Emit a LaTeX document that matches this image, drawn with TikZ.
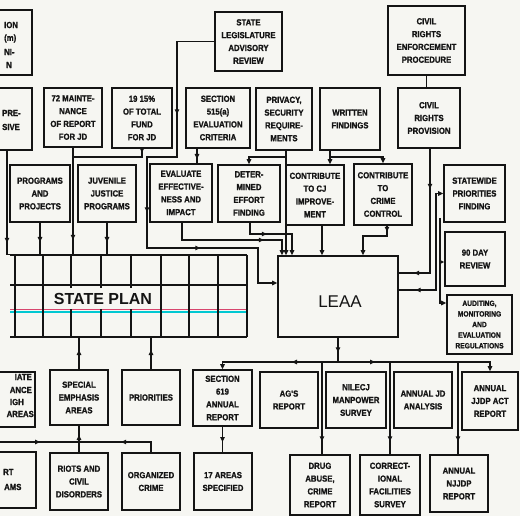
\documentclass[tikz,border=0pt]{standalone}
\usepackage{fontspec}
\setmainfont{Liberation Sans}
\newfontfamily\condf{Liberation Sans Bold}[FakeStretch=0.88,FakeBold=1.2]
\usetikzlibrary{arrows.meta,decorations.markings}
\definecolor{paper}{RGB}{246,246,242}
\definecolor{ink}{RGB}{20,20,20}
\definecolor{scancyan}{RGB}{0,200,210}
\definecolor{scanred}{RGB}{215,70,110}
\newcommand{\mybox}[5]{\node[box, minimum width=#3pt, minimum height=#4pt] (#1) at (#2) {#5};}
\begin{document}
\begin{tikzpicture}[x=1pt,y=-1pt,
  box/.style={draw=ink, line width=1.6pt, inner sep=1pt, align=center, text=ink, font=\condf\fontsize{8.8}{12.8}\selectfont},
  frag/.style={inner sep=0pt, text=ink, font=\condf\fontsize{8.8}{12.8}\selectfont},
  ln/.style={draw=ink, line width=1.3pt},
  gridln/.style={draw=ink, line width=1.4pt},
  >={Triangle[length=5pt,width=4.5pt]},
  ma/.style={postaction={decorate,decoration={markings,mark=at position #1 with {\arrow{Triangle[length=5pt,width=4.5pt]}}}}},
]
\useasboundingbox (0,0) rectangle (520,516);
\clip (0,0) rectangle (520,516);
\fill[paper] (0,0) rectangle (520,516);

% ---- boxes ----
\mybox{cutA}{7,42.5}{50}{65}{}
\mybox{cutB}{7,119}{50}{62}{}
\mybox{SLAR}{248.5,41.5}{67}{59}{STATE\\LEGISLATURE\\ADVISORY\\REVIEW}
\mybox{CREP}{426.5,40.5}{77}{69}{CIVIL\\RIGHTS\\ENFORCEMENT\\PROCEDURE}
\mybox{M72}{73,117.5}{58}{59}{72 MAINTE-\\NANCE\\OF REPORT\\FOR JD}
\mybox{F19}{142,118}{60}{60}{19 15\%\\OF TOTAL\\FUND\\FOR JD}
\mybox{S515}{218,118}{64}{60}{SECTION\\515(a)\\EVALUATION\\CRITERIA}
\mybox{PRIV}{284,119}{56}{62}{PRIVACY,\\SECURITY\\REQUIRE-\\MENTS}
\mybox{WRIT}{350,119}{60}{62}{WRITTEN\\FINDINGS}
\mybox{CRP}{429,118}{62}{60}{CIVIL\\RIGHTS\\PROVISION}
\mybox{PROG}{40,193.5}{60}{57}{PROGRAMS\\AND\\PROJECTS}
\mybox{JUV}{107,193.5}{58}{57}{JUVENILE\\JUSTICE\\PROGRAMS}
\mybox{EVAL}{181,193}{62}{58}{EVALUATE\\EFFECTIVE-\\NESS AND\\IMPACT}
\mybox{DET}{249,193.5}{62}{57}{DETER-\\MINED\\EFFORT\\FINDING}
\mybox{CJ}{315,195}{58}{60}{CONTRIBUTE\\TO CJ\\IMPROVE-\\MENT}
\mybox{CC}{383,194.5}{58}{61}{CONTRIBUTE\\TO\\CRIME\\CONTROL}
\mybox{SWP}{474.5,193.5}{61}{57}{STATEWIDE\\PRIORITIES\\FINDING}
\mybox{D90}{475,259}{60}{54}{90 DAY\\REVIEW}
\node[box, minimum width=65pt, minimum height=59pt, font=\condf\fontsize{7.6}{10.6}\selectfont] (AUD) at (479.5,324.5) {AUDITING,\\MONITORING\\AND\\EVALUATION\\REGULATIONS};
\mybox{LEAA}{338,296.5}{120}{81}{}
\mybox{cutC}{7.5,399.5}{55}{55}{}
\mybox{SEA}{79,397.5}{58}{55}{SPECIAL\\EMPHASIS\\AREAS}
\mybox{PRI}{151,397.5}{58}{55}{PRIORITIES}
\mybox{S619}{222.5,398}{59}{56}{SECTION\\619\\ANNUAL\\REPORT}
\mybox{AG}{289,400}{58}{56}{AG'S\\REPORT}
\mybox{NIL}{356,400}{60}{56}{NILECJ\\MANPOWER\\SURVEY}
\mybox{AJD}{423,400}{58}{56}{ANNUAL JD\\ANALYSIS}
\mybox{AJJ}{490,401}{56}{58}{ANNUAL\\JJDP ACT\\REPORT}
\mybox{cutD}{8,480}{56}{56}{}
\mybox{RIOT}{79,481.5}{58}{57}{RIOTS AND\\CIVIL\\DISORDERS}
\mybox{ORG}{151,481.5}{58}{57}{ORGANIZED\\CRIME}
\mybox{A17}{223,481.5}{58}{57}{17 AREAS\\SPECIFIED}
\mybox{DRUG}{320,485}{60}{60}{DRUG\\ABUSE,\\CRIME\\REPORT}
\mybox{CORR}{390,485}{60}{60}{CORRECT-\\IONAL\\FACILITIES\\SURVEY}
\mybox{NJJ}{459,483.5}{58}{57}{ANNUAL\\NJJDP\\REPORT}

% ---- cut-off text fragments ----
\node[frag,anchor=west] (fa1) at (4,25) {ION};
\node[frag,anchor=west] (fa2) at (4,38.5) {(m)};
\node[frag,anchor=west] (fa3) at (4,52) {NI-};
\node[frag,anchor=west] (fa4) at (6,65) {N};
\node[frag,anchor=west] (fb1) at (2,113) {PRE-};
\node[frag,anchor=west] (fb2) at (2,127) {SIVE};
\node[frag,anchor=east] (fc1) at (32,377) {IATE};
\node[frag,anchor=east] (fc2) at (32,390) {ANCE};
\node[frag,anchor=east] (fc3) at (24,402) {IGH};
\node[frag,anchor=east] (fc4) at (34,414) {AREAS};
\node[frag,anchor=west] (fd1) at (3,472) {RT};
\node[frag,anchor=west] (fd2) at (4,487) {AMS};

% ---- state plan grid ----
\node[inner sep=0pt, minimum width=237pt, minimum height=82pt] (plan) at (128.5,296) {};
\foreach \yy in {255,285,337} \draw[gridln] (10,\yy) -- (247,\yy);
\draw[line width=0.5pt, scanred] (10,309.6) -- (247,309.6);
\draw[line width=2pt, scancyan] (10,311.6) -- (247,311.6);
\foreach \xx in {15,43,71,101,131,161,189,218,247} \draw[gridln] (\xx,255) -- (\xx,337);
\node[font=\bfseries\fontsize{16}{16}\selectfont, text=ink, fill=paper, inner xsep=3pt, inner ysep=5pt] (plantxt) at (103,298.5) {STATE PLAN};
\node[font=\fontsize{17}{17}\selectfont, text=ink, inner sep=0pt] (leaatxt) at (340,302) {LEAA};

% ---- junction coordinates ----
\coordinate (jpriv) at (286,157);
\coordinate (jwrit) at (330,157);
\coordinate (jr) at (440,218);
\coordinate (jd) at (440,262);
\coordinate (bus) at (338,362);
\coordinate (b1) at (322,362);
\coordinate (b2) at (390,362);
\coordinate (b3) at (458,362);
\coordinate (j2) at (79,442);
\coordinate (jl) at (-5,442);

% ---- connectors ----
\draw[ln] (CREP.south) -- (CREP.south |- CRP.north);
\draw[ln,->,ma=110pt,ma=238pt,ma=327pt] (SLAR.west) -| (177,157) -| (147,248) -| (258,283) -- (LEAA.west |- 0,283);
\draw[ln,ma=92pt] (M72.south) -- (M72.south |- plan.north);
\draw[ln,ma=4pt] (F19.south) |- (M72.south |- 0,157);
\draw[ln,ma=0.6] (PROG.south) -- (PROG.south |- plan.north);
\draw[ln,ma=0.6] (JUV.south) -- (JUV.south |- plan.north);
\draw[ln,ma=92pt] (cutB.south) |- (plan.north west);
\draw[ln,ma=0.7] (197,0 |- S515.south) -- (197,0 |- EVAL.north);
\draw[ln,->,ma=99pt] (182,0 |- EVAL.south) |- (282,240) -- (282,0 |- LEAA.north);
\draw[ln,->,ma=28pt] (250,0 |- DET.south) |- (292,234) -- (292,0 |- LEAA.north);
\draw[ln,->] (286,0 |- PRIV.south) -- (286,0 |- LEAA.north);
\draw[ln,->] (jpriv) -| (DET.north);
\draw[ln,->] (330,0 |- WRIT.south) -- (330,0 |- CJ.north);
\draw[ln,->] (jwrit) -| (CC.north);
\draw[ln,->] (322,0 |- CJ.south) -- (322,0 |- LEAA.north);
\draw[ln,->,ma=6pt] (387,0 |- CC.south) |- (363,236) -- (363,0 |- LEAA.north);
\draw[ln,ma=40pt,ma=140pt] (430,0 |- CRP.south) |- (LEAA.east |- 0,273);
\draw[ln,<-,ma=124pt] (SWP.west) -| (436,290) -- (LEAA.east |- 0,290);
\draw[ln,->] (jr) |- (AUD.west |- 0,303);
\draw[ln,->] (jd) -- (D90.west |- jd);
\draw[ln,ma=0.6] (LEAA.south) -- (bus);
\draw[ln,->,ma=46pt] (bus) -| (S619.north);
\draw[ln,->,ma=37pt] (bus) -| (AJJ.north);
\draw[ln,ma=0.86] (b1) -- (b1 |- DRUG.north);
\draw[ln,ma=0.86] (b2) -- (b2 |- CORR.north);
\draw[ln,ma=0.86] (b3) -- (b3 |- NJJ.north);
\draw[ln,ma=0.6] (S619.south) -- (S619.south |- A17.north);
\draw[ln,ma=0.6] (SEA.north) -- (SEA.north |- plan.south);
\draw[ln,ma=0.6] (PRI.north) -- (PRI.north |- plan.south);
\draw[ln,ma=40pt] (ORG.north) |- (j2);
\draw[ln,ma=45pt] (jl) -- (j2);
\draw[ln,ma=0.65] (RIOT.north) -- (SEA.south);
\end{tikzpicture}
\end{document}
